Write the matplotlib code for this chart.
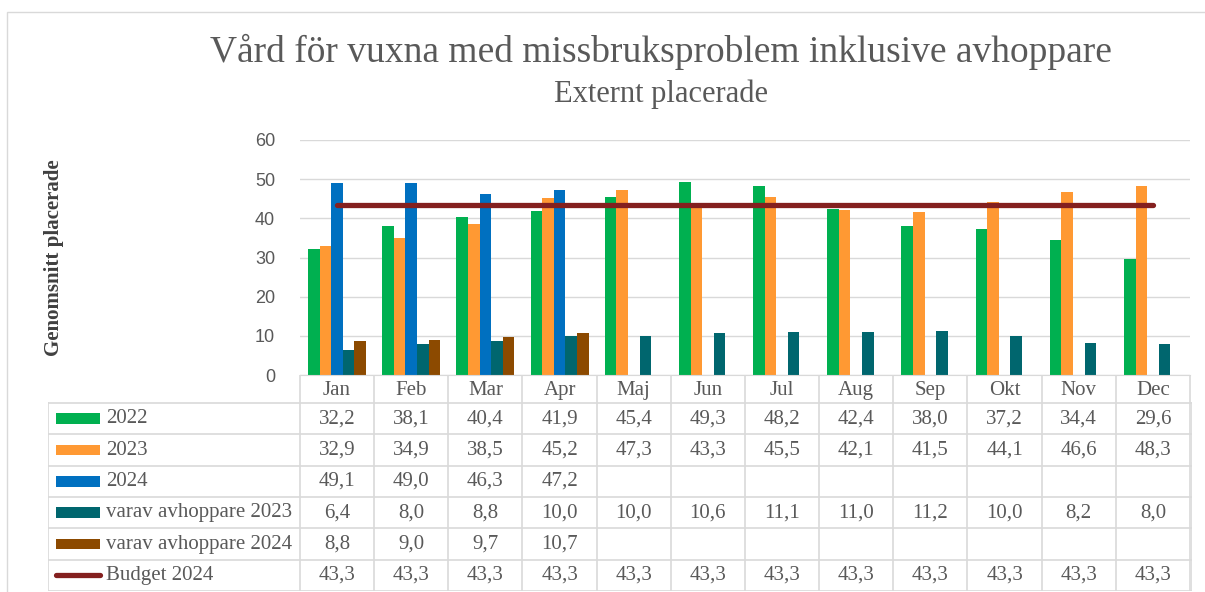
import numpy as np
import matplotlib.pyplot as plt
from matplotlib.patches import Rectangle

# Data
months = ["Jan", "Feb", "Mar", "Apr", "Maj", "Jun", "Jul", "Aug", "Sep", "Okt", "Nov", "Dec"]
nan = np.nan
v2022 = [32.2, 38.1, 40.4, 41.9, 45.4, 49.3, 48.2, 42.4, 38.0, 37.2, 34.4, 29.6]
v2023 = [32.9, 34.9, 38.5, 45.2, 47.3, 43.3, 45.5, 42.1, 41.5, 44.1, 46.6, 48.3]
v2024 = [49.1, 49.0, 46.3, 47.2, nan, nan, nan, nan, nan, nan, nan, nan]
avh2023 = [6.4, 8.0, 8.8, 10.0, 10.0, 10.6, 11.1, 11.0, 11.2, 10.0, 8.2, 8.0]
avh2024 = [8.8, 9.0, 9.7, 10.7, nan, nan, nan, nan, nan, nan, nan, nan]
budget = [43.3] * 12

bar_series = [
    ("2022", v2022, "#00B050"),
    ("2023", v2023, "#FF9933"),
    ("2024", v2024, "#0070C0"),
    ("varav avhoppare 2023", avh2023, "#00666E"),
    ("varav avhoppare 2024", avh2024, "#8C4A00"),
]
budget_label = "Budget 2024"
budget_color = "#84201F"

W, H = 1205, 592
TXT = "#595959"
GRID = "#D9D9D9"
SERIF = "Liberation Serif"

fig = plt.figure(figsize=(W / 100, H / 100), dpi=100)

# outer chart border (right and bottom edges fall outside the picture)
fig.add_artist(Rectangle((7 / W, -0.1), 1.2, 1 - 12 / H + 0.1, transform=fig.transFigure,
                         fill=False, edgecolor=GRID, linewidth=1))

# plot area
px_l, px_r, px_t, px_b = 300, 1190, 140, 375
ax = fig.add_axes([px_l / W, 1 - px_b / H, (px_r - px_l) / W, (px_b - px_t) / H])
x = np.arange(len(months))
bw = 0.156
for i, (name, vals, col) in enumerate(bar_series):
    ax.bar(x + (i - 2) * bw, vals, width=bw, color=col, zorder=2)
ax.plot(x, budget, color=budget_color, linewidth=3.8, solid_capstyle="round", zorder=3)

ax.set_xlim(-0.5, len(months) - 0.5)
ax.set_ylim(0, 60)
ax.set_yticks(range(0, 61, 10))
ax.set_xticks([])
ax.grid(axis="y", color=GRID, linewidth=1, zorder=0)
for s in ["top", "right", "left"]:
    ax.spines[s].set_visible(False)
ax.spines["bottom"].set_color(GRID)
ax.tick_params(axis="y", length=0, pad=18, labelsize=13, labelcolor=TXT)
for lab in ax.get_yticklabels():
    lab.set_fontfamily("Liberation Sans")
ax.set_ylabel("Genomsnitt placerade", family=SERIF, fontsize=15, fontweight="bold",
              color="#404040", labelpad=0)
ax.yaxis.set_label_coords(-236 / (px_r - px_l), 0.5)

# data table below the plot
tb_l, tb_r, tb_t, tb_b = 48, 1192, 375, 591
tax = fig.add_axes([tb_l / W, 1 - tb_b / H, (tb_r - tb_l) / W, (tb_b - tb_t) / H])
cat_px = (px_r - px_l) / len(months)
x0 = -0.5 - (px_l - tb_l) / cat_px
x1 = len(months) - 0.5 + (tb_r - px_r) / cat_px
head_h = 28 / 31.3
nrows = len(bar_series) + 1
tax.set_xlim(x0, x1)
tax.set_ylim(nrows + head_h, 0)
tax.axis("off")

lc = dict(color=GRID, linewidth=1.2)
# vertical lines
for b in np.arange(-0.5, len(months) + 0.5, 1):
    tax.plot([b, b], [0, nrows + head_h], **lc)
tax.plot([x0, x0], [head_h, nrows + head_h], **lc)
tax.plot([x1, x1], [head_h, nrows + head_h], **lc)
# horizontal lines
for r in range(nrows + 1):
    tax.plot([x0, x1], [head_h + r, head_h + r], **lc)

tfont = dict(family=SERIF, fontsize=15, color=TXT, va="center")
for j, m in enumerate(months):
    tax.text(j, head_h / 2 + 0.05, m, ha="center", **tfont)

rows = [(n, v, c) for n, v, c in bar_series] + [(budget_label, budget, budget_color)]
sw_l = x0 + 8 / cat_px
sw_r = x0 + 52 / cat_px
for r, (name, vals, col) in enumerate(rows):
    yc = head_h + r + 0.5
    if name == budget_label:
        tax.plot([sw_l, sw_r], [yc, yc], color=col, linewidth=3.8, solid_capstyle="round")
    else:
        tax.add_patch(Rectangle((sw_l, yc - 0.17), sw_r - sw_l, 0.34, color=col, linewidth=0))
    tax.text(x0 + 58 / cat_px, yc, name, ha="left", **tfont)
    for j, v in enumerate(vals):
        if not np.isnan(v):
            tax.text(j, yc, f"{v:.1f}".replace(".", ","), ha="center", **tfont)

# titles
fig.text(661 / W, 1 - 52 / H, "Vård för vuxna med missbruksproblem inklusive avhoppare",
         ha="center", va="center", family=SERIF, fontsize=27, color=TXT)
fig.text(661 / W, 1 - 94 / H, "Externt placerade", ha="center", va="center",
         family=SERIF, fontsize=22, color=TXT)

fig.savefig("out.png", dpi=100)
